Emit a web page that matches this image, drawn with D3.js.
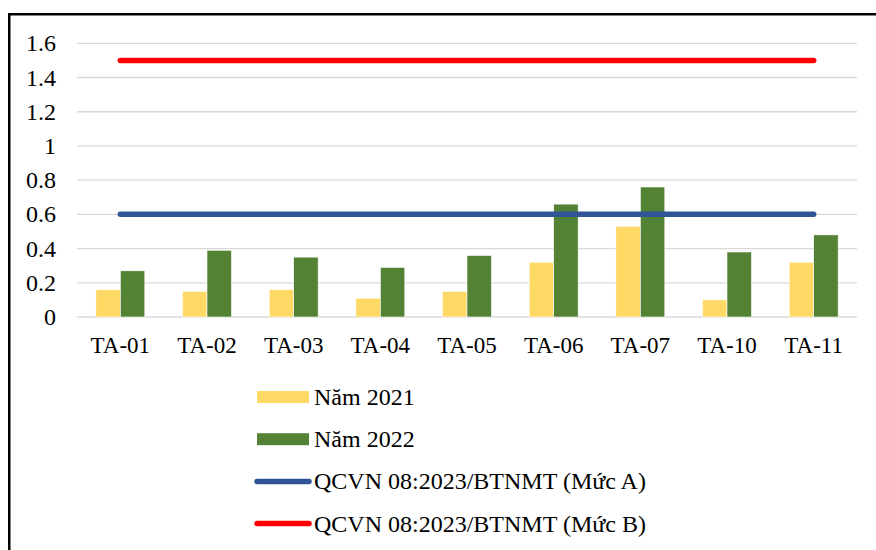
<!DOCTYPE html>
<html>
<head>
<meta charset="utf-8">
<script src="https://cdn.jsdelivr.net/npm/d3@7"></script>
<style>html, body { margin: 0; background: #fff; }</style>
</head>
<body>
<svg id="chart" width="876" height="550"></svg>
<script>
// Monitoring sites
const sites = ["TA-01", "TA-02", "TA-03", "TA-04", "TA-05", "TA-06", "TA-07", "TA-10", "TA-11"];
// Measured values per year
const values2021 = [0.16, 0.15, 0.16, 0.11, 0.15, 0.32, 0.53, 0.10, 0.32];
const values2022 = [0.27, 0.39, 0.35, 0.29, 0.36, 0.66, 0.76, 0.38, 0.48];
// Regulation limits
const limitA = 0.6;
const limitB = 1.5;
// Axis ticks
const yTicks = [0, 0.2, 0.4, 0.6, 0.8, 1, 1.2, 1.4, 1.6];
// Legend labels
const legendLabels = ["Năm 2021", "Năm 2022", "QCVN 08:2023/BTNMT (Mức A)", "QCVN 08:2023/BTNMT (Mức B)"];

const colors = { y2021: "#FFD966", y2022: "#548235", A: "#2F5597", B: "#FF0000", grid: "#D9D9D9" };

const svg = d3.select("#chart");

// Outer frame
svg.append("rect")
  .attr("x", 9.25).attr("y", 14.25)
  .attr("width", 900).attr("height", 600)
  .attr("fill", "none").attr("stroke", "#000").attr("stroke-width", 2.5);

const plot = { left: 77, right: 857, top: 43.3, bottom: 317 };

const x = d3.scaleBand().domain(sites).range([plot.left, plot.right]).paddingInner(0.435).paddingOuter(0.2175);
const y = d3.scaleLinear().domain([0, 1.6]).range([plot.bottom, plot.top]);

// Gridlines
svg.append("g").selectAll("line").data(yTicks).join("line")
  .attr("x1", plot.left).attr("x2", plot.right)
  .attr("y1", d => y(d)).attr("y2", d => y(d))
  .attr("stroke", colors.grid).attr("stroke-width", 1.3);

// Y tick labels, right-aligned and centred on each gridline
svg.append("g").selectAll("text").data(yTicks).join("text")
  .attr("x", plot.left - 21)
  .attr("y", d => y(d) + 8)
  .attr("text-anchor", "end")
  .attr("font-size", 24)
  .style("font-family", '"Liberation Serif"')
  .text(d => d3.format("~g")(d));

// Category labels under each group
svg.append("g").selectAll("text").data(sites).join("text")
  .attr("x", d => x(d) + x.bandwidth() / 2)
  .attr("y", plot.bottom + 36)
  .attr("text-anchor", "middle")
  .attr("font-size", 23)
  .style("font-family", '"Liberation Serif"')
  .text(d => d);

// Bars
const sub = d3.scaleBand().domain(["y2021", "y2022"]).range([0, x.bandwidth()]);
const rows = sites.map((s, i) => ({ site: s, y2021: values2021[i], y2022: values2022[i] }));
const groups = svg.append("g").selectAll("g").data(rows).join("g")
  .attr("transform", d => `translate(${x(d.site)},0)`);
groups.selectAll("rect").data(d => ["y2021", "y2022"].map(k => ({ key: k, value: d[k] }))).join("rect")
  .attr("x", d => sub(d.key))
  .attr("width", sub.bandwidth())
  .attr("y", d => y(d.value))
  .attr("height", d => y(0) - y(d.value))
  .attr("fill", d => colors[d.key])
  .attr("stroke", "#fff").attr("stroke-width", 0.6);

// Limit lines from first to last site centre
const cx = s => x(s) + x.bandwidth() / 2;
const line = d3.line().x(d => d[0]).y(d => d[1]);
[[limitA, colors.A], [limitB, colors.B]].forEach(([v, c]) => {
  svg.append("path")
    .attr("d", line([[cx(sites[0]), y(v)], [cx(sites[sites.length - 1]), y(v)]]))
    .attr("stroke", c).attr("stroke-width", 5.5).attr("stroke-linecap", "round").attr("fill", "none");
});

// Legend
const rowGap = 42.2;
const keys = ["y2021", "y2022", "A", "B"];
const legendY = i => 397 + i * rowGap;
keys.forEach((k, i) => {
  if (i < 2) {
    svg.append("rect").attr("x", 257).attr("y", legendY(i) - 6).attr("width", 52).attr("height", 12).attr("fill", colors[k]);
  } else {
    svg.append("line").attr("x1", 257).attr("x2", 309).attr("y1", legendY(i)).attr("y2", legendY(i))
      .attr("stroke", colors[k]).attr("stroke-width", 5.5).attr("stroke-linecap", "round");
  }
});
svg.append("g").selectAll("text").data(legendLabels).join("text")
  .attr("x", 314)
  .attr("y", (d, i) => legendY(i) + 8)
  .attr("font-size", 24)
  .style("font-family", '"Liberation Serif"')
  .text(d => d);
</script>
</body>
</html>
